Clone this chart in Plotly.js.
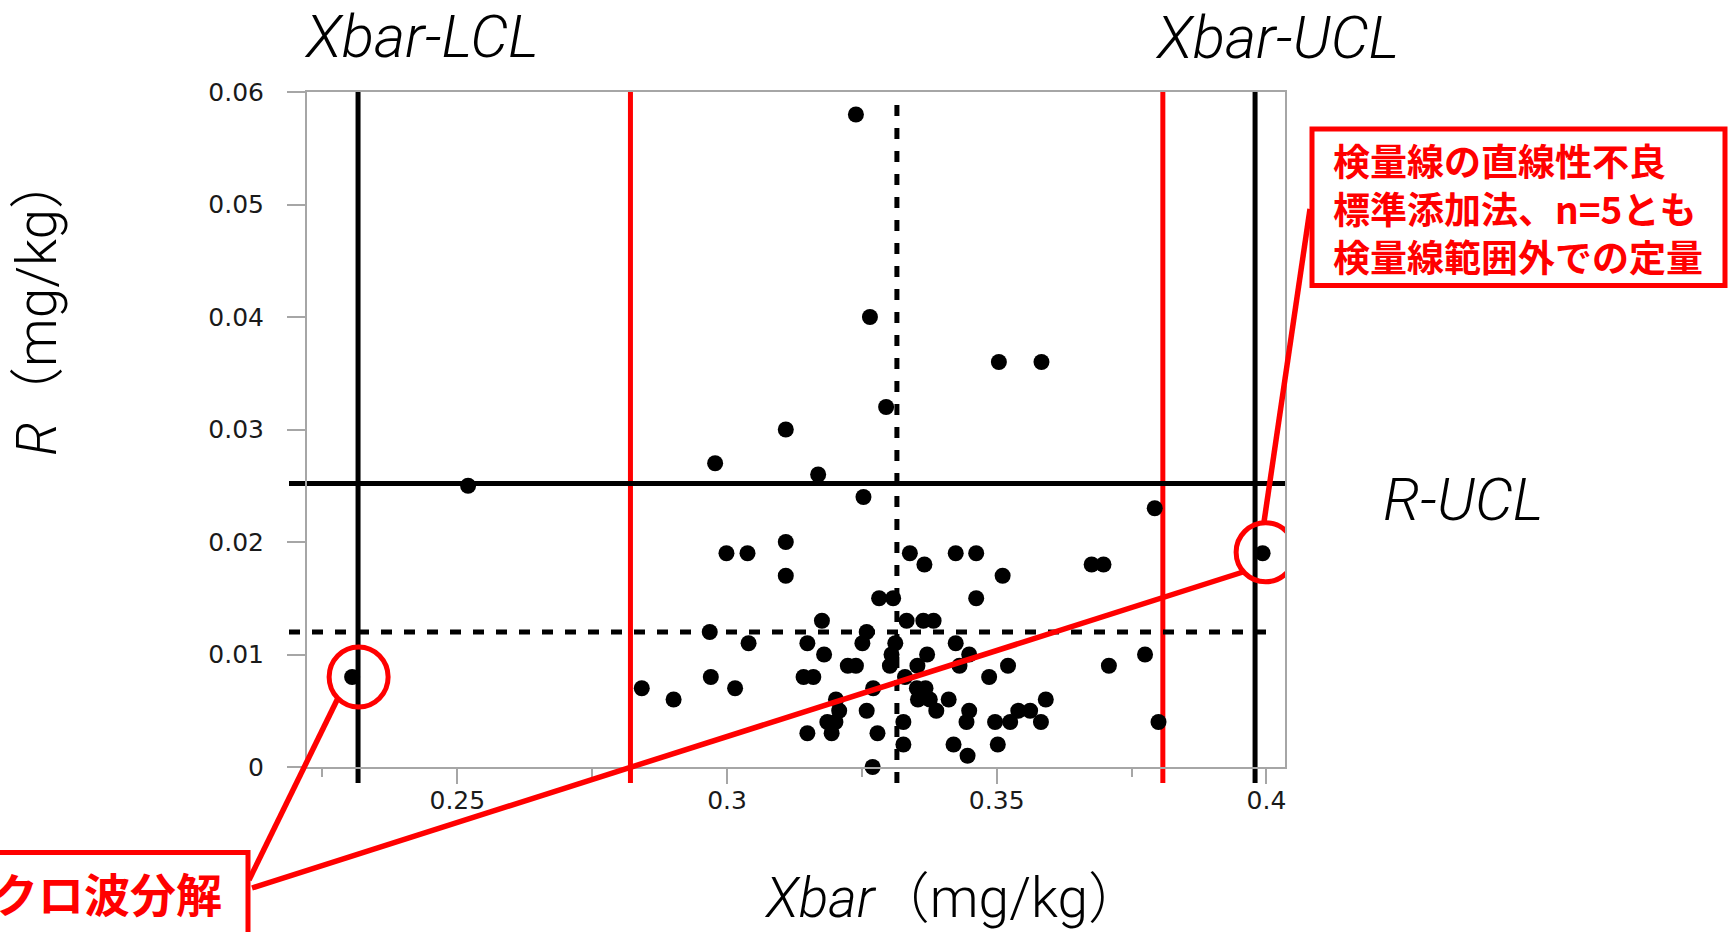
<!DOCTYPE html>
<html>
<head>
<meta charset="utf-8">
<script src="https://cdn.plot.ly/plotly-3.0.1.min.js"></script>
<style>
  html, body { margin: 0; padding: 0; background: #ffffff; }
  #chart { width: 1728px; height: 932px; }
</style>
</head>
<body>
<div id="chart"></div>
<script>
// Subgroup means (Xbar, mg/kg) and ranges (R, mg/kg)
const xbar = [
  0.3239,
  0.3265,
  0.3504, 0.3583,
  0.3295,
  0.3109,
  0.2978,
  0.3169,
  0.2520,
  0.3253,
  0.3793,
  0.3109,
  0.2999, 0.3038, 0.3339, 0.3424, 0.3462, 0.3993,
  0.3366, 0.3676, 0.3698,
  0.3109, 0.3511,
  0.3282, 0.3308, 0.3462,
  0.3176, 0.3333, 0.3364, 0.3383,
  0.2968, 0.3259,
  0.3040, 0.3149, 0.3251, 0.3312, 0.3424,
  0.3180, 0.3305, 0.3371, 0.3449, 0.3775,
  0.3224, 0.3239, 0.3302, 0.3353, 0.3431, 0.3521, 0.3708,
  0.2305, 0.2970, 0.3142, 0.3160, 0.3330, 0.3486,
  0.2842, 0.3015, 0.3271, 0.3352, 0.3368,
  0.2901, 0.3202, 0.3354, 0.3376, 0.3411, 0.3591,
  0.3208, 0.3259, 0.3388, 0.3449, 0.3540, 0.3562,
  0.3186, 0.3201, 0.3327, 0.3444, 0.3497, 0.3525, 0.3582, 0.3800,
  0.3149, 0.3194, 0.3279,
  0.3327, 0.3420, 0.3502,
  0.3446,
  0.3270
];
const rValues = [
  0.058,
  0.040,
  0.036, 0.036,
  0.032,
  0.030,
  0.027,
  0.026,
  0.025,
  0.024,
  0.023,
  0.020,
  0.019, 0.019, 0.019, 0.019, 0.019, 0.019,
  0.018, 0.018, 0.018,
  0.017, 0.017,
  0.015, 0.015, 0.015,
  0.013, 0.013, 0.013, 0.013,
  0.012, 0.012,
  0.011, 0.011, 0.011, 0.011, 0.011,
  0.010, 0.010, 0.010, 0.010, 0.010,
  0.009, 0.009, 0.009, 0.009, 0.009, 0.009, 0.009,
  0.008, 0.008, 0.008, 0.008, 0.008, 0.008,
  0.007, 0.007, 0.007, 0.007, 0.007,
  0.006, 0.006, 0.006, 0.006, 0.006, 0.006,
  0.005, 0.005, 0.005, 0.005, 0.005, 0.005,
  0.004, 0.004, 0.004, 0.004, 0.004, 0.004, 0.004, 0.004,
  0.003, 0.003, 0.003,
  0.002, 0.002, 0.002,
  0.001,
  0.000
];

// Control limits
const xbarControlLimits = [0.2316, 0.3979];   // Xbar-LCL, Xbar-UCL
const xbarCenterLine = [0.3315];
const xbarInnerLimits = [0.2821, 0.3808];     // red limits
const rUpperLimit = [0.0252];                 // R-UCL
const rCenterLine = [0.0120];

// Axis ticks
const yTickVals = [0, 0.01, 0.02, 0.03, 0.04, 0.05, 0.06];
const yTickText = ['0', '0.01', '0.02', '0.03', '0.04', '0.05', '0.06'];
const xTickVals = [0.25, 0.3, 0.35, 0.4];
const xTickText = ['0.25', '0.3', '0.35', '0.4'];
const xMinorVals = [0.225, 0.275, 0.325, 0.375];

// Highlighted subgroups (indices into xbar / rValues)
const flaggedLow = 49;   // マイクロ波分解
const flaggedHigh = 17;  // 検量線範囲外

// Callout texts
const noteLines = ['検量線の直線性不良', '標準添加法、n=5とも', '検量線範囲外での定量'];
const digestionNote = 'クロ波分解';

// Figure geometry
const W = 1728, H = 932;
const M = { l: 307, r: 443, t: 92, b: 165 };
const PW = W - M.l - M.r, PH = H - M.t - M.b;
const px = p => (p - M.l) / PW;          // page pixel -> paper x
const py = p => (H - M.b - p) / PH;      // page pixel -> paper y

const RED = '#ff0000';
const AXIS_GREY = '#a6a6a6';
const labelFont = { family: 'Roboto, Noto Sans CJK JP, DejaVu Sans', size: 60, color: '#000', weight: 300, style: 'italic' };
const titleFont = { family: 'Roboto, Noto Sans CJK JP, DejaVu Sans', size: 55, color: '#000', weight: 300, style: 'normal' };
const redFont = { family: 'Noto Sans CJK JP', size: 37, color: RED, weight: 700 };

const shapes = [];

// Xbar limits (vertical, extending slightly below the axis)
xbarControlLimits.forEach(v => shapes.push({
  type: 'line', layer: 'below', xref: 'x', yref: 'paper',
  x0: v, x1: v, y0: -16 / PH, y1: 1,
  line: { color: '#000', width: 5 }
}));
xbarInnerLimits.forEach(v => shapes.push({
  type: 'line', layer: 'below', xref: 'x', yref: 'paper',
  x0: v, x1: v, y0: -16 / PH, y1: 1,
  line: { color: RED, width: 5 }
}));
xbarCenterLine.forEach(v => shapes.push({
  type: 'line', layer: 'below', xref: 'x', yref: 'paper',
  x0: v, x1: v, y0: -16 / PH, y1: 1 - 11 / PH,
  line: { color: '#000', width: 5, dash: '11px,12px' }
}));

// R limits (horizontal, extending into the tick area)
rUpperLimit.forEach(v => shapes.push({
  type: 'line', layer: 'below', xref: 'paper', yref: 'y',
  x0: -18 / PW, x1: 1, y0: v, y1: v,
  line: { color: '#000', width: 5 }
}));
rCenterLine.forEach(v => shapes.push({
  type: 'line', layer: 'below', xref: 'paper', yref: 'y',
  x0: -18 / PW, x1: 1 - 10 / PW, y0: v, y1: v,
  line: { color: '#000', width: 5, dash: '11px,12px' }
}));

// Red circles around the flagged subgroups
shapes.push({
  type: 'circle', layer: 'above', xref: 'x', yref: 'y',
  xsizemode: 'pixel', ysizemode: 'pixel',
  xanchor: xbar[flaggedLow], yanchor: rValues[flaggedLow],
  x0: -23, x1: 36, y0: -30, y1: 30,
  line: { color: RED, width: 5 }
});
shapes.push({
  type: 'circle', layer: 'above', xref: 'x', yref: 'y',
  xsizemode: 'pixel', ysizemode: 'pixel',
  xanchor: xbar[flaggedHigh], yanchor: rValues[flaggedHigh],
  x0: -26.5, x1: 32.5, y0: -28.5, y1: 30.5,
  line: { color: RED, width: 5 }
});

// Callout boxes and leader lines
shapes.push({
  type: 'rect', layer: 'above', xref: 'paper', yref: 'paper',
  x0: px(1312), x1: px(1725), y0: py(285.5), y1: py(129),
  line: { color: RED, width: 5 }
});
shapes.push({
  type: 'rect', layer: 'above', xref: 'paper', yref: 'paper',
  x0: px(-10), x1: px(248), y0: py(945), y1: py(852.5),
  line: { color: RED, width: 5 }
});
[
  [249, 880, 338, 698],
  [252, 888, 1243, 572],
  [1310, 209, 1264, 522]
].forEach(([a, b, c, d]) => shapes.push({
  type: 'line', layer: 'above', xref: 'paper', yref: 'paper',
  x0: px(a), y0: py(b), x1: px(c), y1: py(d),
  line: { color: RED, width: 5.5 }
}));

const annotations = [
  { text: 'Xbar-LCL', x: px(421), y: py(37), font: labelFont },
  { text: 'Xbar-UCL', x: px(1277), y: py(38), font: labelFont },
  { text: 'R-UCL', x: px(1463), y: py(499), font: labelFont },
  { text: '<i>Xbar</i>（mg/kg）', x: px(953), y: py(898), font: titleFont },
  { text: '<i>R</i>（mg/kg）', x: px(37), y: py(305), textangle: -90, font: titleFont },
  { text: noteLines.join('<br>'), x: px(1331), y: py(208), xanchor: 'left', align: 'left', font: redFont },
  { text: digestionNote, x: px(224), y: py(892), xanchor: 'right',
    font: Object.assign({}, redFont, { size: 46 }) }
].map(a => Object.assign({
  xref: 'paper', yref: 'paper', showarrow: false,
  xanchor: 'center', yanchor: 'middle'
}, a));

const trace = {
  type: 'scatter', mode: 'markers',
  x: xbar, y: rValues,
  marker: { color: '#000', size: 16, line: { width: 0 } },
  cliponaxis: false,
  hoverinfo: 'x+y'
};

const tickFont = { family: 'DejaVu Sans', size: 25, color: '#1a1a1a' };

const layout = {
  width: W, height: H,
  margin: M,
  paper_bgcolor: '#ffffff', plot_bgcolor: '#ffffff',
  showlegend: false,
  xaxis: {
    range: [0.25 - 150.3 / 5394, 0.25 + 827.7 / 5394],
    tickmode: 'array', tickvals: xTickVals, ticktext: xTickText,
    ticks: 'outside', ticklen: 15, tickwidth: 2, tickcolor: AXIS_GREY,
    minor: { tickmode: 'array', tickvals: xMinorVals, ticks: 'outside', ticklen: 8, tickwidth: 2, tickcolor: AXIS_GREY, showgrid: false },
    showline: true, linecolor: AXIS_GREY, linewidth: 2, mirror: true,
    showgrid: false, zeroline: false, automargin: false,
    tickfont: tickFont, ticklabelstandoff: -5
  },
  yaxis: {
    range: [0, 0.06],
    tickmode: 'array', tickvals: yTickVals, ticktext: yTickText,
    ticks: 'outside', ticklen: 18, tickwidth: 2, tickcolor: AXIS_GREY,
    showline: true, linecolor: AXIS_GREY, linewidth: 2, mirror: true,
    showgrid: false, zeroline: false, automargin: false,
    tickfont: tickFont, ticklabelstandoff: 18
  },
  shapes: shapes,
  annotations: annotations
};

Plotly.newPlot('chart', [trace], layout, { displayModeBar: false, staticPlot: true });
</script>
</body>
</html>
